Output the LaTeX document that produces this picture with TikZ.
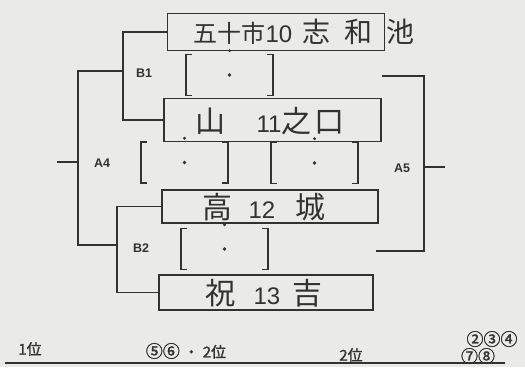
\documentclass[tikz,border=0pt]{standalone}
\usepackage{fontspec}
\setmainfont{Liberation Sans}
\newfontfamily\jp{Noto Sans CJK JP}
\newfontfamily\jpb[FakeBold=1.5]{Noto Sans CJK JP}
\definecolor{paper}{RGB}{234,234,232}
\definecolor{ink}{RGB}{50,50,50}
\newcommand{\hw}[2][30]{{\jp\fontsize{#1}{#1}\selectfont #2}}
\newcommand{\circnum}[1]{{\fontsize{17}{17}\selectfont #1}}

\begin{document}
\begin{tikzpicture}[x=1pt, y=-1pt, color=ink, line width=1.7pt,
  team/.style={draw, line width=1.9pt, minimum width=217pt, minimum height=37pt, inner sep=0pt},
  hand/.style={inner sep=0pt, font=\fontsize{24}{24}\selectfont},
  score/.style={minimum width=85pt, minimum height=39pt, inner sep=0pt},
  bracket/.style={line width=1.6pt},
  tag/.style={font=\bfseries\fontsize{12.5}{12.5}\selectfont},
  rank/.style={font=\jpb\fontsize{15}{15}\selectfont}]
\fill[paper] (0,0) rectangle (525,367);
\useasboundingbox (0,0) rectangle (525,367);

% teams
\node[team] (t1) at (276,32) {};
\node[team] (t2) at (272.5,120) [minimum height=43pt] {};
\node[team] (t3) at (270,206.5) [minimum height=33pt, minimum width=216pt] {};
\node[team] (t4) at (266,292.5) [minimum height=35pt, minimum width=214pt] {};
\node[hand] (n1) at (304,32) {\hw[24]{五十市}10\hspace{10pt}\hw[28]{志\hspace{14pt}和\hspace{14pt}池}};
\node[hand] (n2) at (270,121) {\hw{山}\hspace{31pt}11\hw{之\hspace{3pt}口}};
\node[hand] (n3) at (264,207) {\hw{高}\hspace{16pt}12\hspace{20pt}\hw{城}};
\node[hand] (n4) at (264,293) {\hw{祝}\hspace{18pt}13\hspace{12pt}\hw{吉}};

% score boxes
\foreach \n/\x/\y in {s1/229.5/75, s2/184.5/162.5, s3/314.5/163, s4/224.5/249} {
  \node[score] (\n) at (\x,\y) {};
  \draw[bracket] ([xshift=6pt]\n.north west) -| (\n.south west) -- ++(6,0);
  \draw[bracket] ([xshift=-6pt]\n.north east) -| (\n.south east) -- ++(-6,0);
  \fill ([yshift=4pt]\n.north) circle (1.6pt);
  \fill (\n.center) circle (1.8pt);
}

% brackets
\coordinate (b1) at (123,71);
\coordinate (b2) at (117,245);
\coordinate (a4) at (78,162);
\coordinate (a4end) at (57,162);
\coordinate (a5) at (424,167);
\coordinate (a5end) at (445,167);
\coordinate (a5top) at (382,76);
\coordinate (a5bot) at (376,251);
\draw (t1.west) -| (b1) |- (t2.west);
\draw (t3.west) -| (b2) |- (t4.west);
\draw (b1) -| (a4) |- (b2);
\draw (a4end) -- (a4);
\draw (a5top) -| (a5) |- (a5bot);
\draw (a5) -- (a5end);
\node[tag] (lb1) at (144,73) {B1};
\node[tag] (lb2) at (141,248) {B2};
\node[tag] (la4) at (102,163) {A4};
\node[tag] (la5) at (402,168) {A5};

% ranks
\coordinate (r0) at (5,363);
\coordinate (r1) at (505,363);
\draw[line width=2pt] (r0) -- (r1);
\node[rank] (p1) at (30,349) {1位};
\node[rank] (p2) at (186,351) {\circnum{⑤⑥}\hspace{4pt}・\hspace{4pt}2位};
\node[rank] (p3) at (351,355) {2位};
\node[rank] (p4) at (492,339) {\circnum{②③④}};
\node[rank] (p5) at (478,356) {\circnum{⑦⑧}};
\end{tikzpicture}
\end{document}
